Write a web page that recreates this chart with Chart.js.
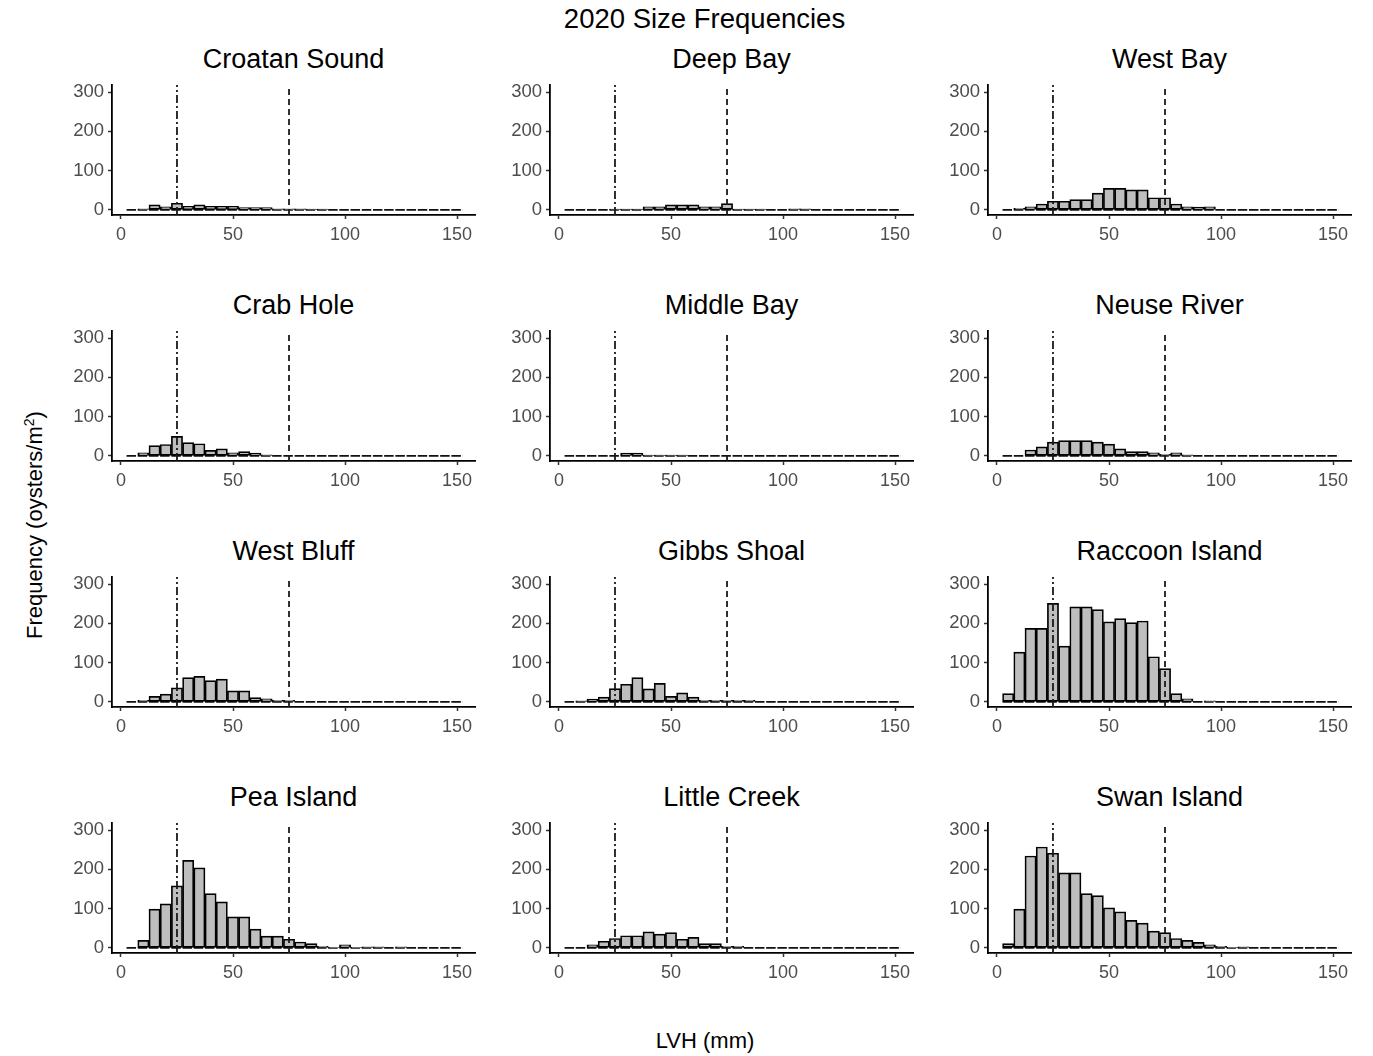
<!DOCTYPE html>
<html>
<head>
<meta charset="utf-8">
<script src="https://cdn.jsdelivr.net/npm/chart.js@4"></script>
<style>
  body { margin: 0; background: #fff; font-family: "Liberation Sans", Arial, sans-serif; }
  #page { position: relative; width: 1373px; height: 1056px; overflow: hidden; }
  canvas { position: absolute; }
  .txt { position: absolute; color: #000; white-space: nowrap; }
  .ptitle { font-size: 27px; line-height: 30px; text-align: center; width: 363px; }
</style>
</head>
<body>
<div id="page">
  <div class="txt" style="left:0;width:1409px;top:4px;font-size:27.5px;line-height:30px;text-align:center;">2020 Size Frequencies</div>
  <div class="txt" style="left:0;width:1410px;top:1027px;font-size:22px;line-height:28px;text-align:center;">LVH (mm)</div>
  <div class="txt" style="left:32px;top:525px;font-size:22px;line-height:26px;transform:translate(-50%,-50%) rotate(-90deg);">Frequency (oysters/m<sup style="font-size:14px;">2</sup>)</div>
</div>
<script>
// 5 mm size bins (bin centres)
const bins = [5, 10, 15, 20, 25, 30, 35, 40, 45, 50, 55, 60, 65, 70, 75,
  80, 85, 90, 95, 100, 105, 110, 115, 120, 125, 130, 135, 140, 145, 150];
const xTicks = [0, 50, 100, 150];
const yTicks = [0, 100, 200, 300];
const seedLine = 25;   // dot-dash
const legalLine = 75;  // dashed

const sites = ["Croatan Sound", "Deep Bay", "West Bay", "Crab Hole", "Middle Bay", "Neuse River",
  "West Bluff", "Gibbs Shoal", "Raccoon Island", "Pea Island", "Little Creek", "Swan Island"];

const croatanSound = [0, 3, 13, 8, 17, 9, 13, 9, 9, 9, 6, 6, 6, 3, 3, 3, 2, 2, 0, 0, 0, 0, 0, 0, 0, 0, 0, 0, 0, 0];
const deepBay = [0, 0, 0, 0, 2, 2, 2, 8, 8, 13, 13, 13, 8, 8, 16, 2, 2, 2, 0, 0, 3, 3, 0, 0, 0, 0, 0, 0, 0, 0];
const westBay = [0, 4, 8, 15, 22, 22, 26, 26, 43, 55, 55, 51, 51, 31, 31, 15, 8, 7, 8, 0, 0, 0, 0, 0, 0, 0, 0, 0, 0, 0];
const crabHole = [0, 8, 26, 29, 50, 34, 31, 14, 18, 8, 11, 7, 3, 0, 0, 0, 0, 0, 0, 0, 0, 0, 0, 0, 0, 0, 0, 0, 0, 0];
const middleBay = [0, 0, 0, 0, 0, 7, 7, 2, 2, 2, 2, 0, 0, 0, 0, 0, 0, 0, 0, 0, 0, 0, 0, 0, 0, 0, 0, 0, 0, 0];
const neuseRiver = [0, 0, 15, 23, 35, 39, 39, 39, 35, 30, 18, 11, 11, 8, 4, 8, 3, 0, 0, 0, 0, 0, 0, 0, 0, 0, 0, 0, 0, 0];
const westBluff = [0, 4, 14, 20, 36, 62, 65, 54, 58, 28, 28, 11, 8, 4, 4, 0, 0, 0, 0, 0, 0, 0, 0, 0, 0, 0, 0, 0, 0, 0];
const gibbsShoal = [0, 3, 7, 12, 34, 45, 62, 33, 47, 14, 23, 12, 4, 4, 4, 4, 4, 0, 0, 0, 0, 0, 0, 0, 0, 0, 0, 0, 0, 0];
const raccoonIsland = [21, 127, 187, 187, 251, 142, 242, 242, 235, 204, 212, 202, 206, 115, 85, 21, 8, 0, 3, 0, 0, 0, 0, 0, 0, 0, 0, 0, 0, 0];
const peaIsland = [0, 19, 99, 112, 158, 223, 204, 138, 117, 79, 79, 48, 30, 30, 22, 15, 11, 4, 1, 8, 1, 3, 3, 0, 3, 0, 0, 0, 0, 0];
const littleCreek = [0, 0, 8, 17, 24, 31, 31, 41, 35, 39, 22, 27, 11, 11, 4, 4, 0, 0, 0, 0, 0, 0, 0, 0, 0, 0, 0, 0, 0, 0];
const swanIsland = [11, 99, 234, 257, 241, 191, 191, 138, 133, 102, 92, 70, 63, 43, 39, 24, 19, 14, 8, 4, 1, 3, 0, 0, 0, 0, 0, 0, 0, 0];

const siteValues = [croatanSound, deepBay, westBay, crabHole, middleBay, neuseRiver,
  westBluff, gibbsShoal, raccoonIsland, peaIsland, littleCreek, swanIsland];

const xMin = -4, xMax = 158, yMin = -13, yMax = 318;
const binLo = 2.5, binHi = 152.5;

// panel geometry
const areaW = 363, areaH = 130, padL = 60, padT = 45, padR = 15, padB = 35;
const page = document.getElementById("page");
const font = "'Liberation Sans', Arial, sans-serif";

siteValues.forEach((vals, i) => {
  const col = i % 3, row = Math.floor(i / 3);
  const left = 112 + 438 * col, top = 85 + 246 * row;

  const t = document.createElement("div");
  t.className = "txt ptitle";
  t.style.left = left + "px";
  t.style.top = (top - 41) + "px";
  t.textContent = sites[i];
  page.appendChild(t);

  const cv = document.createElement("canvas");
  cv.width = padL + areaW + padR;
  cv.height = padT + areaH + padB;
  cv.style.left = (left - padL) + "px";
  cv.style.top = (top - padT) + "px";
  page.appendChild(cv);

  new Chart(cv.getContext("2d"), {
    type: "bar",
    data: {
      datasets: [
        {
          type: "line",
          data: [{ x: seedLine, y: yMin }, { x: seedLine, y: yMax }],
          borderColor: "#1a1a1a",
          borderWidth: 1.8,
          borderDash: [8, 3, 2, 3],
          pointRadius: 0,
          order: 0,
        },
        {
          type: "line",
          data: [{ x: legalLine, y: yMin }, { x: legalLine, y: yMax }],
          borderColor: "#1a1a1a",
          borderWidth: 1.8,
          borderDash: [6, 4],
          pointRadius: 0,
          order: 0,
        },
        {
          type: "bar",
          data: bins.map((b, k) => ({ x: b, y: vals[k] })),
          backgroundColor: "#bebebe",
          borderColor: "#000",
          borderWidth: 1.7,
          borderSkipped: false,
          barPercentage: 1,
          categoryPercentage: 1,
          order: 1,
        },
        {
          type: "line",
          data: [{ x: binLo, y: 0 }, { x: binHi, y: 0 }],
          borderColor: "#111",
          borderWidth: 1.7,
          borderDash: [9.5, 1.7],
          pointRadius: 0,
          order: 2,
        },
      ],
    },
    options: {
      responsive: false,
      animation: false,
      devicePixelRatio: 1,
      layout: { padding: { top: padT, right: padR, left: 0, bottom: 0 } },
      plugins: { legend: { display: false }, tooltip: { enabled: false }, title: { display: false } },
      scales: {
        x: {
          type: "linear",
          min: xMin,
          max: xMax,
          offset: false,
          afterBuildTicks: (s) => { s.ticks = xTicks.map((v) => ({ value: v })); },
          afterFit: (s) => { s.height = padB; },
          border: { color: "#000", width: 1.8 },
          grid: { offset: false, drawOnChartArea: false, drawTicks: true, tickLength: 4, tickColor: "#333", tickWidth: 1.5 },
          ticks: { color: "#4d4d4d", font: { family: font, size: 18 }, padding: 5, maxRotation: 0 },
        },
        y: {
          min: yMin,
          max: yMax,
          afterBuildTicks: (s) => { s.ticks = yTicks.map((v) => ({ value: v })); },
          afterFit: (s) => { s.width = padL; },
          border: { color: "#000", width: 1.8 },
          grid: { drawOnChartArea: false, drawTicks: true, tickLength: 4, tickColor: "#333", tickWidth: 1.5 },
          ticks: { color: "#4d4d4d", font: { family: font, size: 18.5 }, padding: 4 },
        },
      },
    },
  });
});
</script>
</body>
</html>
